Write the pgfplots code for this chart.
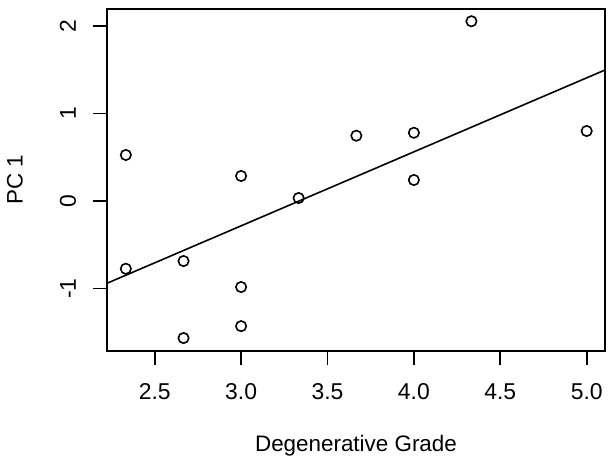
\documentclass[border=0pt]{standalone}
\usepackage{pgfplots}
\pgfplotsset{compat=1.18}
\usepackage{fontspec}
\setmainfont{Liberation Sans}
\begin{document}
\begin{tikzpicture}
\useasboundingbox (-107bp,-113bp) rectangle (507bp,351bp);
\begin{axis}[
  at={(0,0)}, anchor=south west,
  scale only axis, width=498bp, height=342bp,
  xmin=2.224, xmax=5.106, ymin=-1.714, ymax=2.194,
  axis line style={line width=1.7bp},
  xtick={2.5,3.0,3.5,4.0,4.5,5.0},
  xticklabels={2.5,3.0,3.5,4.0,4.5,5.0},
  ytick={-1,0,1,2},
  yticklabels={-1,0,1,2},
  xtick pos=bottom, ytick pos=left,
  tick align=outside, major tick length=14bp,
  every tick/.style={line width=1.7bp, black},
  x tick label style={font=\fontsize{23}{26}\selectfont, anchor=center, yshift=-26.7bp},
  y tick label style={font=\fontsize{23}{26}\selectfont, rotate=90, anchor=center, yshift=25bp},
  xlabel={Degenerative Grade},
  ylabel={PC 1},
  label style={font=\fontsize{22.5}{26}\selectfont},
  xlabel style={at={(axis description cs:0.5,0)}, anchor=center, yshift=-94.7bp},
  ylabel style={at={(axis description cs:0,0.5)}, anchor=center, yshift=92bp},
]
\addplot[only marks, mark=o, mark size=5.2bp, mark options={line width=1.6bp}, black] coordinates {
  (2.333,0.526) (2.333,-0.774) (2.667,-0.686) (2.667,-1.566)
  (3.0,0.286) (3.0,-0.983) (3.0,-1.43) (3.333,0.034)
  (3.667,0.746) (4.0,0.78) (4.0,0.24) (4.333,2.054) (5.0,0.80)
};
\addplot[black, line width=1.6bp] coordinates {(2.224,-0.94) (5.106,1.497)};
\end{axis}
\end{tikzpicture}
\end{document}
